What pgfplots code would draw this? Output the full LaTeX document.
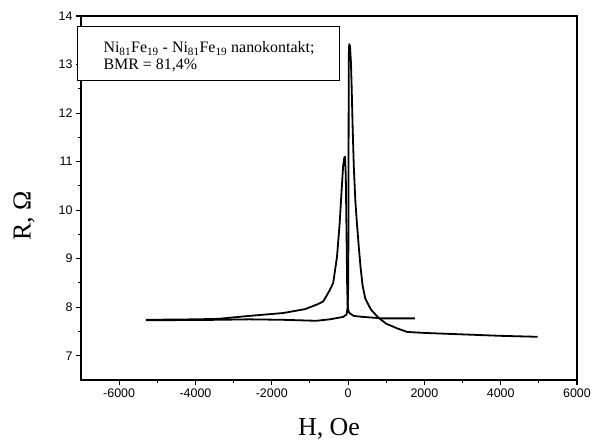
\documentclass[border=0pt]{standalone}
\usepackage{fontspec}
\setmainfont{Liberation Serif}
\setsansfont{Liberation Sans}
\usepackage{pgfplots}
\pgfplotsset{compat=1.18}
\begin{document}
\begin{tikzpicture}
\begin{axis}[
  at={(0,0)}, anchor=south west,
  scale only axis, width=496bp, height=364bp,
  xmin=-7000, xmax=6000, ymin=6.5, ymax=14,
  xtick={-6000,-4000,...,6000}, ytick={7,8,...,14},
  minor x tick num=1, minor y tick num=1,
  tick align=outside, xtick pos=left, ytick pos=left,
  major tick length=5bp, minor tick length=3bp,
  tick style={black, line width=1.1bp},
  axis line style={line width=1.1bp},
  ticklabel style={font=\sffamily\fontsize{12.5}{14}\selectfont},
  /pgf/number format/assume math mode=true,
  /pgf/number format/1000 sep={},
  scaled x ticks=false,
  xlabel={H, Oe}, ylabel={R, Ω},
  xlabel style={font=\fontsize{26}{30}\selectfont, at={(axis description cs:0.5,-0.135)}, anchor=center},
  ylabel style={font=\fontsize{26}{30}\selectfont, at={(axis description cs:-0.115,0.45)}, anchor=center},
  clip=false,
]
% sweep from +H to -H
\addplot[black, line width=1.8bp, line join=round, no marks] coordinates {
(4970,7.39) (4000,7.41) (3000,7.44) (2000,7.47) (1550,7.49) (1300,7.56)
(1000,7.66) (800,7.78) (600,7.95) (450,8.18) (380,8.45) (330,8.8)
(280,9.25) (230,9.75) (190,10.2) (150,10.9) (120,11.7) (95,12.5)
(75,13.05) (50,13.38) (30,13.42) (20,13.2) (15,12.0) (10,10.0)
(5,8.5) (-10,8.0) (-40,7.85) (-130,7.80) (-480,7.75) (-830,7.72)
(-1700,7.74) (-2600,7.75) (-3400,7.74) (-5300,7.73)
};
% sweep from -H to +H
\addplot[black, line width=1.8bp, line join=round, no marks] coordinates {
(-5300,7.74) (-4000,7.75) (-3400,7.76) (-2600,7.82) (-1700,7.88)
(-1130,7.96) (-800,8.06) (-650,8.12) (-480,8.35) (-390,8.5)
(-290,9.04) (-220,9.73) (-170,10.4) (-130,10.9) (-100,11.08)
(-80,11.1) (-60,10.7) (-40,9.5) (-25,8.5) (-10,8.0) (20,7.9)
(50,7.87) (150,7.82) (390,7.80) (900,7.77) (1750,7.77)
};
\draw[line width=0.8bp, fill=white] (axis cs:-7084,12.667) rectangle (axis cs:-217,13.79);
\node[anchor=base west, inner sep=0, font=\fontsize{16}{18}\selectfont] at (axis cs:-6414,13.24)
  {Ni\textsubscript{81}Fe\textsubscript{19} - Ni\textsubscript{81}Fe\textsubscript{19} nanokontakt;};
\node[anchor=base west, inner sep=0, font=\fontsize{16}{18}\selectfont] at (axis cs:-6414,12.89)
  {BMR = 81,4\%};
\end{axis}
\pgfresetboundingbox
\path (-81bp,-63bp) rectangle (517bp,380bp);
\end{tikzpicture}
\end{document}
